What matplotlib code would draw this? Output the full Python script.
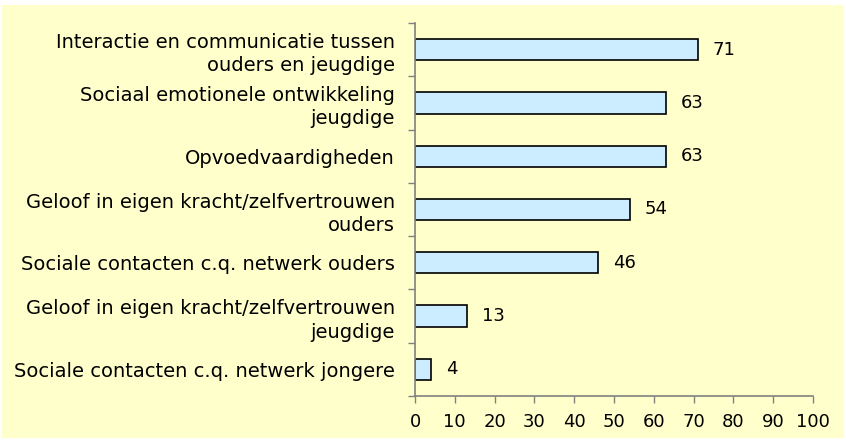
import matplotlib.pyplot as plt
from matplotlib.patches import Rectangle

categories = [
    "Interactie en communicatie tussen\nouders en jeugdige",
    "Sociaal emotionele ontwikkeling\njeugdige",
    "Opvoedvaardigheden",
    "Geloof in eigen kracht/zelfvertrouwen\nouders",
    "Sociale contacten c.q. netwerk ouders",
    "Geloof in eigen kracht/zelfvertrouwen\njeugdige",
    "Sociale contacten c.q. netwerk jongere",
]
values = [71, 63, 63, 54, 46, 13, 4]
x_ticks = list(range(0, 101, 10))

W, H = 846, 443
fig = plt.figure(figsize=(W / 100, H / 100), dpi=100, facecolor="white")
fig.add_artist(Rectangle((2 / W, 5 / H), 842 / W, 433 / H, transform=fig.transFigure,
                         facecolor="#FFFFCC", edgecolor="none", zorder=-10))

ax = fig.add_axes([415 / W, 1 - 396 / H, 398 / W, 373 / H])
ax.set_facecolor("none")
ax.set_zorder(5)

n = len(categories)
ypos = [n - 1 - i for i in range(n)]
ax.barh(ypos, values, height=0.4, color="#CCECFF", edgecolor="black", linewidth=1.2)
for y, v in zip(ypos, values):
    ax.text(v + 3.8, y, str(v), va="center", ha="left", fontsize=13)

ax.set_xlim(0, 100)
ax.set_ylim(-0.5, n - 0.5)
ax.set_xticks(x_ticks)
ax.set_xticklabels([str(t) for t in x_ticks], fontsize=13)
ax.set_yticks(ypos)
ax.set_yticklabels(categories, fontsize=14, ha="right", linespacing=1.3)
ax.set_yticks([i - 0.5 for i in range(n + 1)], minor=True)
ax.tick_params(axis="y", which="major", length=0, pad=14.5)
ax.tick_params(axis="y", which="minor", length=5, color="#808080", width=1)
ax.tick_params(axis="x", length=5, color="#808080", width=1, pad=7)

for s in ["top", "right"]:
    ax.spines[s].set_visible(False)
for s in ["left", "bottom"]:
    ax.spines[s].set_color("#808080")
    ax.spines[s].set_linewidth(1.2)

fig.savefig("out.png", dpi=100, facecolor="white")
